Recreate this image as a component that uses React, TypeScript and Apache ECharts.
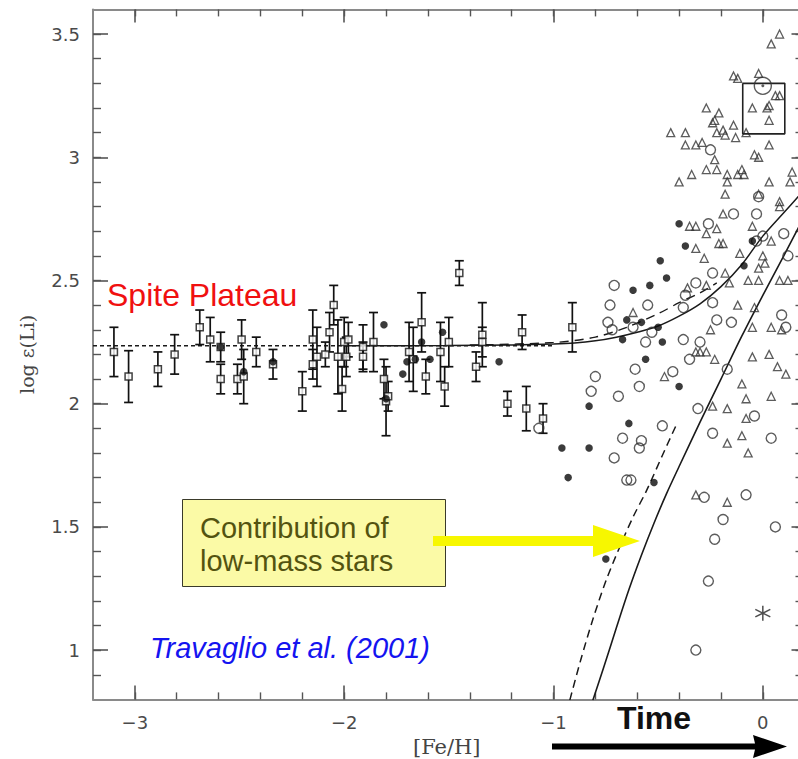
import React, { useEffect, useRef } from "react";
import * as echarts from "echarts";

// ---- axis ticks ----
const xMajorTicks = [-3, -2, -1, 0];
const xMinorTicks = [-3.0, -2.8, -2.6, -2.4, -2.2, -2.0, -1.8, -1.6, -1.4, -1.2, -1.0, -0.8, -0.6, -0.4, -0.2, 0.0];
const yMajorTicks = [1, 1.5, 2, 2.5, 3, 3.5];
const yMinorTicks = [0.9, 1.0, 1.1, 1.2, 1.3, 1.4, 1.5, 1.6, 1.7, 1.8, 1.9, 2.0, 2.1, 2.2, 2.3, 2.4, 2.5, 2.6, 2.7, 2.8, 2.9, 3.0, 3.1, 3.2, 3.3, 3.4, 3.5];

// ---- halo stars with error bars: [Fe/H], log eps(Li), error ----
const haloSquares = [
  [-3.10, 2.21, 0.10], [-3.03, 2.11, 0.105], [-2.89, 2.14, 0.07], [-2.81, 2.20, 0.08],
  [-2.69, 2.31, 0.07], [-2.64, 2.26, 0.09], [-2.59, 2.23, 0.06], [-2.59, 2.10, 0.06],
  [-2.49, 2.26, 0.08], [-2.51, 2.10, 0.06], [-2.48, 2.11, 0.11], [-2.42, 2.21, 0.06],
  [-2.34, 2.16, 0.06], [-2.20, 2.05, 0.08], [-2.15, 2.26, 0.12], [-2.15, 2.16, 0.06],
  [-2.13, 2.19, 0.12], [-2.09, 2.20, 0.05], [-2.07, 2.29, 0.08], [-2.05, 2.40, 0.08],
  [-2.03, 2.19, 0.15], [-2.01, 2.06, 0.09], [-2.00, 2.25, 0.10], [-1.98, 2.26, 0.07],
  [-1.99, 2.19, 0.08], [-1.91, 2.23, 0.09], [-1.91, 2.19, 0.06], [-1.86, 2.25, 0.12],
  [-1.81, 2.10, 0.08], [-1.80, 2.01, 0.14], [-1.79, 2.03, 0.06], [-1.69, 2.21, 0.12],
  [-1.67, 2.18, 0.13], [-1.63, 2.33, 0.12], [-1.61, 2.11, 0.07], [-1.54, 2.21, 0.12],
  [-1.50, 2.25, 0.10], [-1.52, 2.07, 0.08], [-1.45, 2.53, 0.05], [-1.34, 2.28, 0.13],
  [-1.34, 2.25, 0.06], [-1.37, 2.15, 0.06], [-1.15, 2.29, 0.07], [-0.91, 2.31, 0.10],
  [-1.22, 2.00, 0.05], [-1.13, 1.98, 0.09], [-1.05, 1.94, 0.06],
];

const filledCircles = [
  [-2.59, 2.23], [-2.48, 2.13], [-2.34, 2.17], [-1.81, 2.32], [-1.80, 2.02], [-1.70, 2.17],
  [-1.72, 2.12], [-1.63, 2.25], [-1.59, 2.18], [-1.66, 2.18], [-1.53, 2.29], [-1.26, 2.17],
  [-0.83, 1.99], [-0.96, 1.82], [-0.83, 1.82], [-0.93, 1.70], [-0.64, 1.92], [-0.40, 2.07],
  [-0.52, 1.68], [-0.75, 1.37], [-0.40, 2.73], [-0.37, 2.64], [-0.49, 2.58], [-0.46, 2.51],
  [-0.54, 2.48], [-0.62, 2.46], [-0.65, 2.34], [-0.58, 2.33], [-0.50, 2.31], [-0.67, 2.26],
  [-0.48, 2.25], [-0.56, 2.18], [-0.05, 2.66], [-0.09, 2.56],
];

const openCircles = [
  [-0.80, 2.11], [-0.82, 2.05], [-1.07, 1.90], [-0.71, 2.48], [-0.73, 2.40], [-0.55, 2.40],
  [-0.74, 2.33], [-0.72, 2.30], [-0.62, 2.31], [-0.53, 2.29], [-0.56, 2.25], [-0.38, 2.26],
  [-0.30, 2.25], [-0.35, 2.18], [-0.43, 2.13], [-0.61, 2.14], [-0.59, 2.07], [-0.69, 2.03],
  [-0.31, 1.98], [-0.48, 1.91], [-0.67, 1.86], [-0.58, 1.85], [-0.59, 1.82], [-0.71, 1.78],
  [-0.24, 1.88], [0.04, 1.86], [-0.04, 1.95], [-0.17, 2.14], [-0.22, 2.34], [-0.15, 2.33],
  [-0.24, 2.41], [-0.38, 2.39], [-0.37, 2.44], [-0.32, 2.49], [-0.24, 2.53], [-0.26, 2.73],
  [0.09, 2.36], [0.11, 2.31], [0.12, 2.60], [0.10, 2.69], [0.00, 2.68], [-0.03, 2.66],
  [-0.25, 3.03], [-0.14, 2.77], [-0.03, 2.77], [-0.02, 2.84], [-0.65, 1.69], [-0.63, 1.69],
  [-0.28, 1.62], [-0.08, 1.63], [-0.19, 1.53], [-0.23, 1.45], [0.06, 1.50], [-0.26, 1.28],
  [-0.32, 1.00],
];

const openTriangles = [
  [0.08, 3.50], [0.04, 3.46], [-0.14, 3.33], [-0.12, 3.32], [-0.02, 3.34], [0.06, 3.25],
  [0.08, 3.25], [-0.05, 3.20], [0.02, 3.20], [0.03, 3.21], [0.03, 3.15], [-0.27, 3.20],
  [-0.21, 3.18], [-0.24, 3.14], [-0.23, 3.15], [-0.14, 3.13], [-0.22, 3.10], [-0.19, 3.11],
  [-0.18, 3.09], [-0.13, 3.08], [-0.08, 3.10], [-0.44, 3.10], [-0.37, 3.10], [-0.37, 3.05],
  [-0.32, 3.05], [-0.29, 3.06], [0.03, 3.05], [-0.04, 3.01], [-0.02, 3.00], [-0.23, 2.99],
  [-0.27, 2.95], [-0.22, 2.95], [-0.34, 2.93], [-0.40, 2.90], [-0.17, 2.93], [-0.17, 2.90],
  [-0.12, 2.93], [-0.10, 2.95], [-0.09, 2.93], [0.03, 2.90], [0.13, 2.90], [0.14, 2.94],
  [-0.18, 2.85], [-0.02, 2.85], [0.08, 2.82], [0.08, 2.80], [-0.19, 2.77], [-0.32, 2.72],
  [-0.22, 2.71], [-0.05, 2.72], [-0.35, 2.72], [-0.27, 2.69], [-0.21, 2.65], [-0.19, 2.65],
  [-0.32, 2.63], [-0.28, 2.59], [-0.11, 2.61], [0.00, 2.60], [0.01, 2.57], [0.04, 2.66],
  [-0.18, 2.53], [-0.16, 2.49], [-0.07, 2.50], [-0.02, 2.50], [-0.02, 2.55], [0.08, 2.50],
  [0.12, 2.50], [-0.36, 2.47], [-0.27, 2.48], [-0.12, 2.40], [-0.04, 2.39], [-0.62, 2.37],
  [-0.25, 2.30], [-0.05, 2.31], [0.04, 2.31], [0.09, 2.30], [-0.32, 2.21], [-0.30, 2.21],
  [-0.27, 2.21], [-0.23, 2.18], [-0.05, 2.19], [0.03, 2.20], [0.07, 2.15], [0.11, 2.12],
  [-0.47, 2.11], [-0.10, 2.08], [-0.08, 2.02], [0.04, 2.03], [-0.24, 1.99], [-0.17, 1.98],
  [-0.08, 1.94], [-0.10, 1.87], [-0.17, 1.84], [-0.07, 1.80], [-0.32, 1.63], [-0.17, 1.60],
];

const sunPoint = [[0.0, 3.29]];
const meteoriticBox = [[-0.096, 3.30], [0.105, 3.30], [0.105, 3.095], [-0.096, 3.095], [-0.096, 3.30]];
const asteriskPoint = [[0.0, 1.15]];

// ---- model curves ----
const plateauLine = [[-3.2, 2.235], [-1.0, 2.235]];
const modelSolid = [
  [-2.0, 2.235], [-1.5, 2.236], [-1.2, 2.238], [-1.0, 2.242], [-0.9, 2.246], [-0.8, 2.255],
  [-0.7, 2.27], [-0.6, 2.29], [-0.5, 2.315], [-0.4, 2.355], [-0.3, 2.405], [-0.2, 2.475],
  [-0.1, 2.565], [0.0, 2.68], [0.1, 2.775], [0.18, 2.85],
];
const modelDashed = [
  [-1.4, 2.238], [-1.0, 2.248], [-0.8, 2.27], [-0.65, 2.31], [-0.5, 2.365], [-0.4, 2.41],
  [-0.3, 2.45], [-0.22, 2.49],
];
const lowMassSolid = [
  [-0.812, 0.797], [-0.76, 0.93], [-0.70, 1.09], [-0.64, 1.245], [-0.58, 1.385], [-0.52, 1.515],
  [-0.46, 1.635], [-0.40, 1.745], [-0.30, 1.925], [-0.20, 2.10], [-0.10, 2.275], [0.0, 2.44],
  [0.10, 2.60], [0.18, 2.73],
];
const lowMassDashed = [
  [-0.922, 0.797], [-0.87, 0.96], [-0.81, 1.13], [-0.75, 1.28], [-0.683, 1.42], [-0.62, 1.54],
  [-0.554, 1.65], [-0.48, 1.79], [-0.41, 1.92],
];

const fmt = (v: number) => (v < 0 ? "\u2212" + Math.abs(v) : String(v));

const axisGray = "#8a8a8a";
const tickGray = "#555";

function buildOption() {
  const gridPos = { left: 93, top: 9.4, width: 707.5, height: 690, outerBoundsMode: "none", containLabel: false };
  const xBase = { type: "value", min: -3.2, max: 0.18, splitLine: { show: false }, gridIndex: 0 };
  const yBase = { type: "value", min: 0.8, max: 3.6, splitLine: { show: false }, gridIndex: 0 };
  const lineCol = "#1a1a1a";
  return {
    animation: false,
    backgroundColor: "#ffffff",
    grid: gridPos,
    xAxis: [
      {
        ...xBase,
        position: "bottom",
        axisLine: { show: true, onZero: false, lineStyle: { color: axisGray, width: 2 } },
        axisTick: { show: true, inside: true, length: 14, customValues: xMajorTicks, lineStyle: { color: tickGray, width: 1.6 } },
        axisLabel: {
          show: true, customValues: xMajorTicks, formatter: fmt, margin: 14,
          color: "#4a4a4a", fontSize: 18, fontFamily: "DejaVu Sans",
        },
        name: "[Fe/H]", nameLocation: "middle", nameGap: 37,
        nameTextStyle: { color: "#444", fontSize: 21, fontFamily: "DejaVu Serif" },
      },
      {
        ...xBase,
        position: "bottom",
        axisLine: { show: false, onZero: false },
        axisTick: { show: true, inside: true, length: 7, customValues: xMinorTicks, lineStyle: { color: tickGray, width: 1.4 } },
        axisLabel: { show: false },
      },
      {
        ...xBase,
        position: "top",
        axisLine: { show: true, onZero: false, lineStyle: { color: axisGray, width: 2 } },
        axisTick: { show: true, inside: true, length: 13, customValues: xMajorTicks, lineStyle: { color: tickGray, width: 1.6 } },
        axisLabel: { show: false },
      },
      {
        ...xBase,
        position: "top",
        axisLine: { show: false, onZero: false },
        axisTick: { show: true, inside: true, length: 7, customValues: xMinorTicks, lineStyle: { color: tickGray, width: 1.4 } },
        axisLabel: { show: false },
      },
    ],
    yAxis: [
      {
        ...yBase,
        position: "left",
        axisLine: { show: true, onZero: false, lineStyle: { color: axisGray, width: 2 } },
        axisTick: { show: true, inside: true, length: 15, customValues: yMajorTicks, lineStyle: { color: tickGray, width: 1.6 } },
        axisLabel: {
          show: true, customValues: yMajorTicks, formatter: (v: number) => String(v), margin: 13,
          color: "#4a4a4a", fontSize: 18, fontFamily: "DejaVu Sans",
        },
        name: "log \u03B5(Li)", nameLocation: "middle", nameGap: 57, nameRotate: 90,
        nameTextStyle: { color: "#444", fontSize: 19, fontFamily: "DejaVu Serif" },
      },
      {
        ...yBase,
        position: "left",
        axisLine: { show: false, onZero: false },
        axisTick: { show: true, inside: true, length: 8, customValues: yMinorTicks, lineStyle: { color: tickGray, width: 1.4 } },
        axisLabel: { show: false },
      },
      {
        ...yBase,
        position: "right",
        axisLine: { show: true, onZero: false, lineStyle: { color: axisGray, width: 2 } },
        axisTick: { show: true, inside: true, length: 9, customValues: yMajorTicks, lineStyle: { color: tickGray, width: 1.6 } },
        axisLabel: { show: false },
      },
      {
        ...yBase,
        position: "right",
        axisLine: { show: false, onZero: false },
        axisTick: { show: true, inside: true, length: 5, customValues: yMinorTicks, lineStyle: { color: tickGray, width: 1.4 } },
        axisLabel: { show: false },
      },
    ],
    series: [
      {
        type: "line", name: "plateau", data: plateauLine, showSymbol: false, z: 3,
        lineStyle: { color: lineCol, width: 1.4, type: [4, 3] },
      },
      {
        type: "line", name: "model", data: modelSolid, showSymbol: false, smooth: 0.3, z: 3,
        lineStyle: { color: lineCol, width: 1.5 },
      },
      {
        type: "line", name: "modelDashed", data: modelDashed, showSymbol: false, smooth: 0.3, z: 3,
        lineStyle: { color: lineCol, width: 1.4, type: [9, 6] },
      },
      {
        type: "line", name: "lowMass", data: lowMassSolid, showSymbol: false, smooth: 0.3, z: 3,
        lineStyle: { color: lineCol, width: 1.6 },
      },
      {
        type: "line", name: "lowMassDashed", data: lowMassDashed, showSymbol: false, smooth: 0.3, z: 3,
        lineStyle: { color: lineCol, width: 1.5, type: [8, 5] },
      },
      {
        type: "custom", name: "errorBars", data: haloSquares, z: 4,
        encode: { x: 0, y: 1 },
        renderItem: (_params: any, api: any) => {
          const x = api.value(0);
          const y = api.value(1);
          const e = api.value(2);
          const t = api.coord([x, y + e]);
          const b = api.coord([x, y - e]);
          const cw = 4.5;
          const st = { stroke: "#111", lineWidth: 1.7 };
          return {
            type: "group",
            children: [
              { type: "line", shape: { x1: t[0], y1: t[1], x2: b[0], y2: b[1] }, style: st },
              { type: "line", shape: { x1: t[0] - cw, y1: t[1], x2: t[0] + cw, y2: t[1] }, style: st },
              { type: "line", shape: { x1: b[0] - cw, y1: b[1], x2: b[0] + cw, y2: b[1] }, style: st },
            ],
          };
        },
      },
      {
        type: "scatter", name: "halo", data: haloSquares.map((d) => [d[0], d[1]]), z: 5,
        symbol: "rect", symbolSize: 7,
        itemStyle: { color: "#ffffff", borderColor: "#111", borderWidth: 1.5 },
      },
      {
        type: "scatter", name: "openCircles", data: openCircles, z: 5,
        symbol: "circle", symbolSize: 10,
        itemStyle: { color: "rgba(255,255,255,0)", borderColor: "#333", borderWidth: 1.4 },
      },
      {
        type: "scatter", name: "triangles", data: openTriangles, z: 5,
        symbol: "triangle", symbolSize: 8,
        itemStyle: { color: "rgba(255,255,255,0)", borderColor: "#333", borderWidth: 1.3 },
      },
      {
        type: "scatter", name: "filled", data: filledCircles, z: 6,
        symbol: "circle", symbolSize: 7.5,
        itemStyle: { color: "#0a0a0a" },
      },
      {
        type: "scatter", name: "sun", data: sunPoint, z: 6,
        symbol: "circle", symbolSize: 17,
        itemStyle: { color: "rgba(255,255,255,0)", borderColor: "#333", borderWidth: 1.4 },
      },
      {
        type: "scatter", name: "sunDot", data: sunPoint, z: 6,
        symbol: "circle", symbolSize: 3,
        itemStyle: { color: "#333" },
      },
      {
        type: "line", name: "meteoritic", data: meteoriticBox, showSymbol: false, z: 6,
        lineStyle: { color: "#222", width: 1.6 },
      },
      {
        type: "scatter", name: "asterisk", data: asteriskPoint, z: 6,
        symbol: "path://M0,-10L0,10M-8.66,-5L8.66,5M-8.66,5L8.66,-5", symbolSize: 15,
        itemStyle: { color: "rgba(0,0,0,0)", borderColor: "#222", borderWidth: 1.5 },
      },
    ],
    graphic: [
      {
        type: "text", x: 107, y: 295, z: 50,
        style: { text: "Spite Plateau", font: '32px "Liberation Sans"', fill: "#f01010", align: "left", verticalAlign: "middle" },
      },
      {
        type: "text", x: 150, y: 648, z: 50,
        style: { text: "Travaglio et al. (2001)", font: 'italic 29px "Liberation Sans"', fill: "#1414f0", align: "left", verticalAlign: "middle" },
      },
      {
        type: "rect", z: 50,
        shape: { x: 182.5, y: 499.5, width: 263, height: 87 },
        style: { fill: "#fbfaa6", stroke: "#3a3a2a", lineWidth: 1 },
      },
      {
        type: "text", x: 200, y: 528, z: 51,
        style: { text: "Contribution of", font: '29px "Liberation Sans"', fill: "#535310", align: "left", verticalAlign: "middle" },
      },
      {
        type: "text", x: 200, y: 561, z: 51,
        style: { text: "low-mass stars", font: '29px "Liberation Sans"', fill: "#535310", align: "left", verticalAlign: "middle" },
      },
      {
        type: "polygon", z: 52,
        shape: { points: [[433, 536], [593, 536], [593, 525], [640, 541], [593, 557], [593, 546], [433, 546]] },
        style: { fill: "#f7f700" },
      },
      {
        type: "text", x: 617, y: 718, z: 50,
        style: { text: "Time", font: 'bold 32px "Liberation Sans"', fill: "#111", align: "left", verticalAlign: "middle" },
      },
      {
        type: "polygon", z: 50,
        shape: { points: [[552, 743.5], [755, 743.5], [753, 735], [787, 746.5], [753, 758], [755, 749.5], [552, 749.5]] },
        style: { fill: "#000" },
      },
    ],
  };
}

export default function App() {
  const ref = useRef<HTMLDivElement>(null);
  useEffect(() => {
    if (!ref.current) return;
    const chart = echarts.init(ref.current, null, { renderer: "svg" });
    chart.setOption(buildOption() as any);
    return () => chart.dispose();
  }, []);
  return (
    <div
      ref={ref}
      style={{ position: "absolute", left: 0, top: 0, width: 798, height: 759, background: "#fff" }}
    />
  );
}
